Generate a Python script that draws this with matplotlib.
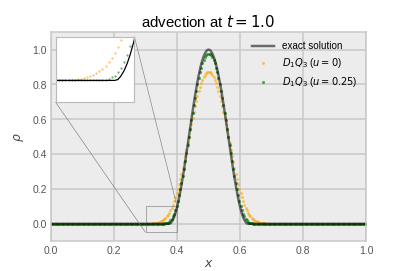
import numpy as np
import matplotlib
matplotlib.use('Agg')
import matplotlib.pyplot as plt
from mpl_toolkits.axes_grid1.inset_locator import mark_inset

plt.rcParams['font.family'] = ['Liberation Sans', 'DejaVu Sans']
plt.rcParams['mathtext.fontset'] = 'dejavusans'

# grid: 257 points, x = i / 256
n_points = 257
x = np.arange(n_points) / 256

# exact solution (nonzero between x = 0.379 and 0.621)
rho_exact = [0.0] * 97 + [
    0.002, 0.010, 0.022, 0.038, 0.059, 0.084, 0.113, 0.146, 0.183, 0.222, 0.264,
    0.309, 0.355, 0.402, 0.451, 0.500, 0.549, 0.598, 0.645, 0.691, 0.736, 0.778,
    0.817, 0.854, 0.887, 0.916, 0.941, 0.962, 0.978, 0.990, 0.998,
    1.000,
    0.998, 0.990, 0.978, 0.962, 0.941, 0.916, 0.887, 0.854, 0.817, 0.778, 0.736,
    0.691, 0.645, 0.598, 0.549, 0.500, 0.451, 0.402, 0.355, 0.309, 0.264, 0.222,
    0.183, 0.146, 0.113, 0.084, 0.059, 0.038, 0.022, 0.010, 0.002,
] + [0.0] * 97

# D1Q3 with u = 0 (more diffusive)
rho_u0 = [0.0] * 80 + [
    0.001, 0.001, 0.001, 0.002, 0.003, 0.004, 0.005, 0.007, 0.010, 0.013, 0.017,
    0.021, 0.027, 0.034, 0.043, 0.052, 0.064, 0.077, 0.093, 0.110, 0.129, 0.151,
    0.174, 0.200, 0.227, 0.257, 0.288, 0.321, 0.355, 0.390, 0.426, 0.463, 0.499,
    0.536, 0.572, 0.608, 0.642, 0.675, 0.707, 0.736, 0.763, 0.788, 0.809, 0.828,
    0.844, 0.856, 0.865, 0.870,
    0.872,
    0.870, 0.865, 0.856, 0.844, 0.828, 0.809, 0.788, 0.763, 0.736, 0.707, 0.675,
    0.642, 0.608, 0.572, 0.536, 0.499, 0.463, 0.426, 0.390, 0.355, 0.321, 0.288,
    0.257, 0.227, 0.200, 0.174, 0.151, 0.129, 0.110, 0.093, 0.077, 0.064, 0.052,
    0.043, 0.034, 0.027, 0.021, 0.017, 0.013, 0.010, 0.007, 0.005, 0.004, 0.003,
    0.002, 0.001, 0.001, 0.001,
] + [0.0] * 80

# D1Q3 with u = 0.25
rho_u025 = [0.0] * 92 + [
    0.001, 0.002, 0.004, 0.007, 0.011, 0.019, 0.028, 0.042, 0.058, 0.079, 0.103,
    0.131, 0.163, 0.197, 0.235, 0.275, 0.317, 0.362, 0.407, 0.453, 0.500, 0.547,
    0.593, 0.638, 0.683, 0.725, 0.765, 0.803, 0.837, 0.869, 0.897, 0.921, 0.941,
    0.956, 0.968, 0.975,
    0.977,
    0.975, 0.968, 0.956, 0.941, 0.921, 0.897, 0.869, 0.837, 0.803, 0.765, 0.725,
    0.683, 0.638, 0.593, 0.547, 0.500, 0.453, 0.407, 0.362, 0.317, 0.275, 0.235,
    0.197, 0.163, 0.131, 0.103, 0.079, 0.058, 0.042, 0.028, 0.019, 0.011, 0.007,
    0.004, 0.002, 0.001,
] + [0.0] * 92

bg = '#ececec'
gridc = '#c8c8c8'

fig = plt.figure(figsize=(6, 4), dpi=407 / 6)
ax = fig.add_subplot(111)
ax.set_facecolor(bg)
ax.grid(True, color=gridc, linewidth=1.6)
ax.set_axisbelow(True)
for sp in ax.spines.values():
    sp.set_color(gridc)
    sp.set_linewidth(1.6)
ax.tick_params(length=0, labelsize=11, labelcolor='#555555', pad=4.5)

ax.plot(x, rho_exact, color='k', alpha=0.55, lw=2.6, label='exact solution')
ax.scatter(x, rho_u0, s=10, color='orange', alpha=0.6, lw=0, label='$D_1Q_3$ ($u=0$)')
ax.scatter(x, rho_u025, s=11, color='green', alpha=0.65, lw=0, label='$D_1Q_3$ ($u=0.25$)')

ax.set_xlim(0, 1)
ax.set_ylim(-0.1, 1.1)
ax.set_xticks([0, 0.2, 0.4, 0.6, 0.8, 1.0])
ax.set_yticks([0, 0.2, 0.4, 0.6, 0.8, 1.0])
ax.set_xlabel('$x$', fontsize=13, color='#444444', labelpad=2)
ax.set_ylabel(r'$\rho$', fontsize=13, color='#444444', labelpad=6)
ax.set_title('advection at $t=1.0$', fontsize=16)
ax.legend(loc='upper right', frameon=False, fontsize=10.5, markerscale=1.0,
          handlelength=2.2, borderaxespad=0.5, scatterpoints=1)

# zoom on the left foot of the bump
axins = ax.inset_axes([0.015, 0.665, 0.25, 0.313])
axins.set_facecolor('white')
axins.plot(x, rho_exact, color='k', lw=1.3)
axins.scatter(x, rho_u0, s=6, color='orange', alpha=0.6, lw=0)
axins.scatter(x, rho_u025, s=6, color='green', alpha=0.55, lw=0)
axins.set_xlim(0.3, 0.4)
axins.set_ylim(-0.05, 0.1)
axins.set_xticks([])
axins.set_yticks([])
axins.grid(False)
for sp in axins.spines.values():
    sp.set_color('#bbbbbb')
    sp.set_linewidth(1.2)
mark_inset(ax, axins, loc1=1, loc2=3, fc='none', ec='0.45', lw=0.6)

plt.savefig('out.png', dpi=407 / 6)
